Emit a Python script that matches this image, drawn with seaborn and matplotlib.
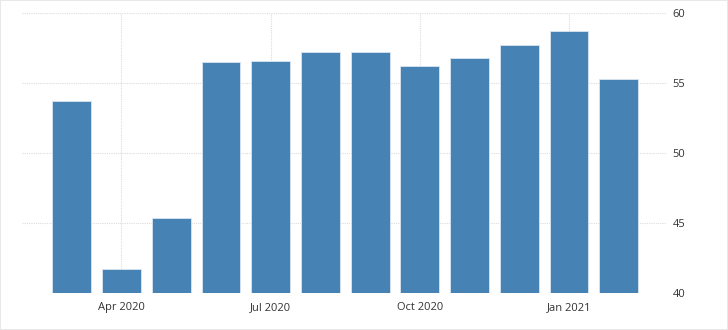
import matplotlib
matplotlib.use("Agg")
import matplotlib.pyplot as plt
import seaborn as sns
import pandas as pd
from matplotlib.patches import Rectangle

months = ["Mar 2020", "Apr 2020", "May 2020", "Jun 2020", "Jul 2020", "Aug 2020",
          "Sep 2020", "Oct 2020", "Nov 2020", "Dec 2020", "Jan 2021", "Feb 2021"]
values = [53.7, 41.7, 45.4, 56.5, 56.6, 57.2, 57.2, 56.2, 56.8, 57.7, 58.7, 55.3]
tick_labels = ["Apr 2020", "Jul 2020", "Oct 2020", "Jan 2021"]
y_ticks = [40, 45, 50, 55, 60]

df = pd.DataFrame({"month": months, "value": values})

sns.set_theme(style="white")
plt.rcParams['font.family'] = ['Open Sans', 'DejaVu Sans']

fig = plt.figure(figsize=(7.28, 3.30), dpi=100)
ax = fig.add_axes([22/728, 1 - 293.3/330, (667-22)/728, (293.3-13.3)/330])

sns.barplot(data=df, x="month", y="value", color="#4682b4", saturation=1,
            width=0.78, edgecolor="#dbe6f0", linewidth=0.6, ax=ax, zorder=2)

ax.set_ylim(40, 60)
ax.set_xlim(-1.0, 11.97)
ax.set_yticks(y_ticks)
ax.yaxis.tick_right()
ax.set_yticklabels([str(t) for t in y_ticks], fontsize=8, color="#333333")
ax.tick_params(axis="y", length=0, pad=4)

pos = [months.index(t) for t in tick_labels]
ax.set_xticks(pos)
ax.set_xticklabels(tick_labels, fontsize=8, color="#333333")
ax.tick_params(axis="x", length=0, pad=6)

ax.grid(True, axis="both", linestyle=(0, (1, 1)), color="#dcdcdc", linewidth=0.8, zorder=0)
ax.set_axisbelow(True)
for s in ax.spines.values():
    s.set_visible(False)
ax.set_xlabel("")
ax.set_ylabel("")

fig.patches.append(Rectangle((0, 0), 1, 1, transform=fig.transFigure, fill=False,
                             edgecolor="#e8e8e8", linewidth=1.5, zorder=10))

fig.savefig("out.png", dpi=100)
